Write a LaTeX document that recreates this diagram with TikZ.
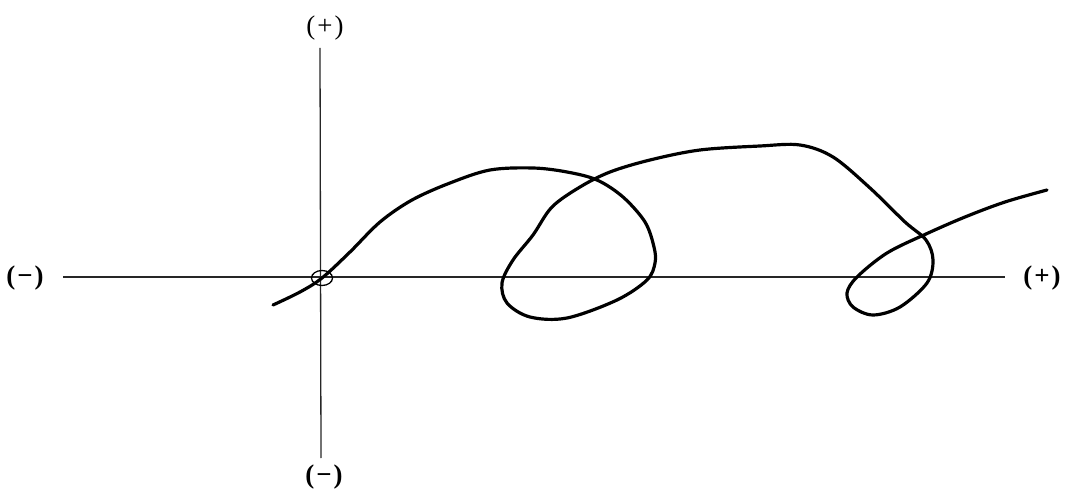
\documentclass[tikz,border=0pt]{standalone}
\usepackage{fontspec}
\setmainfont{Liberation Serif}
\begin{document}
\begin{tikzpicture}[x=1bp,y=-1bp,
  sign/.style={font=\fontsize{27}{30}\selectfont\bfseries,inner sep=0pt}]
\useasboundingbox (0,0) rectangle (1067,490);
% axes
\coordinate (xl) at (63,277);
\coordinate (xr) at (1005,277);
\coordinate (yt) at (320,48);
\coordinate (yb) at (321,458);
\draw[line width=1.3pt,black!85] (xl) -- (xr);
\draw[line width=1.3pt,black!85] (yt) -- (yb);
\node[sign] (lminus) at (25,278) {(\kern2pt−\kern2pt)};
\node[sign] (rplus) at (1042,278) {(\kern2pt+\kern2pt)};
\node[sign,font=\fontsize{27}{30}\selectfont] (tplus) at (325,28) {(\kern2pt+\kern2pt)};
\node[sign] (bminus) at (324,477) {(\kern2pt−\kern2pt)};
% small ring at the origin
\draw[line width=1.3pt] (322,278) ellipse (10.5 and 7.5);
% spiral line
\draw[line width=3.2pt,line cap=round,line join=round,smooth,tension=0.55] plot coordinates {
  (273,305) (300,292) (322,278) (350,252) (380,222) (412,200) (450,183)
  (490,170) (533,168) (567,172) (597,180) (623,197) (645,222) (654,247)
  (655,263) (647,280) (617,300) (567,318) (530,317) (507,303) (502,283)
  (513,260) (533,235) (552,207) (580,187) (610,172) (650,160) (700,150)
  (760,146) (800,145) (833,157) (870,188) (905,222) (926,240) (933,260)
  (927,283) (900,307) (873,315) (853,307) (847,293) (857,277) (887,253)
  (926,234) (965,217) (1005,202) (1047,190)};
\end{tikzpicture}
\end{document}
